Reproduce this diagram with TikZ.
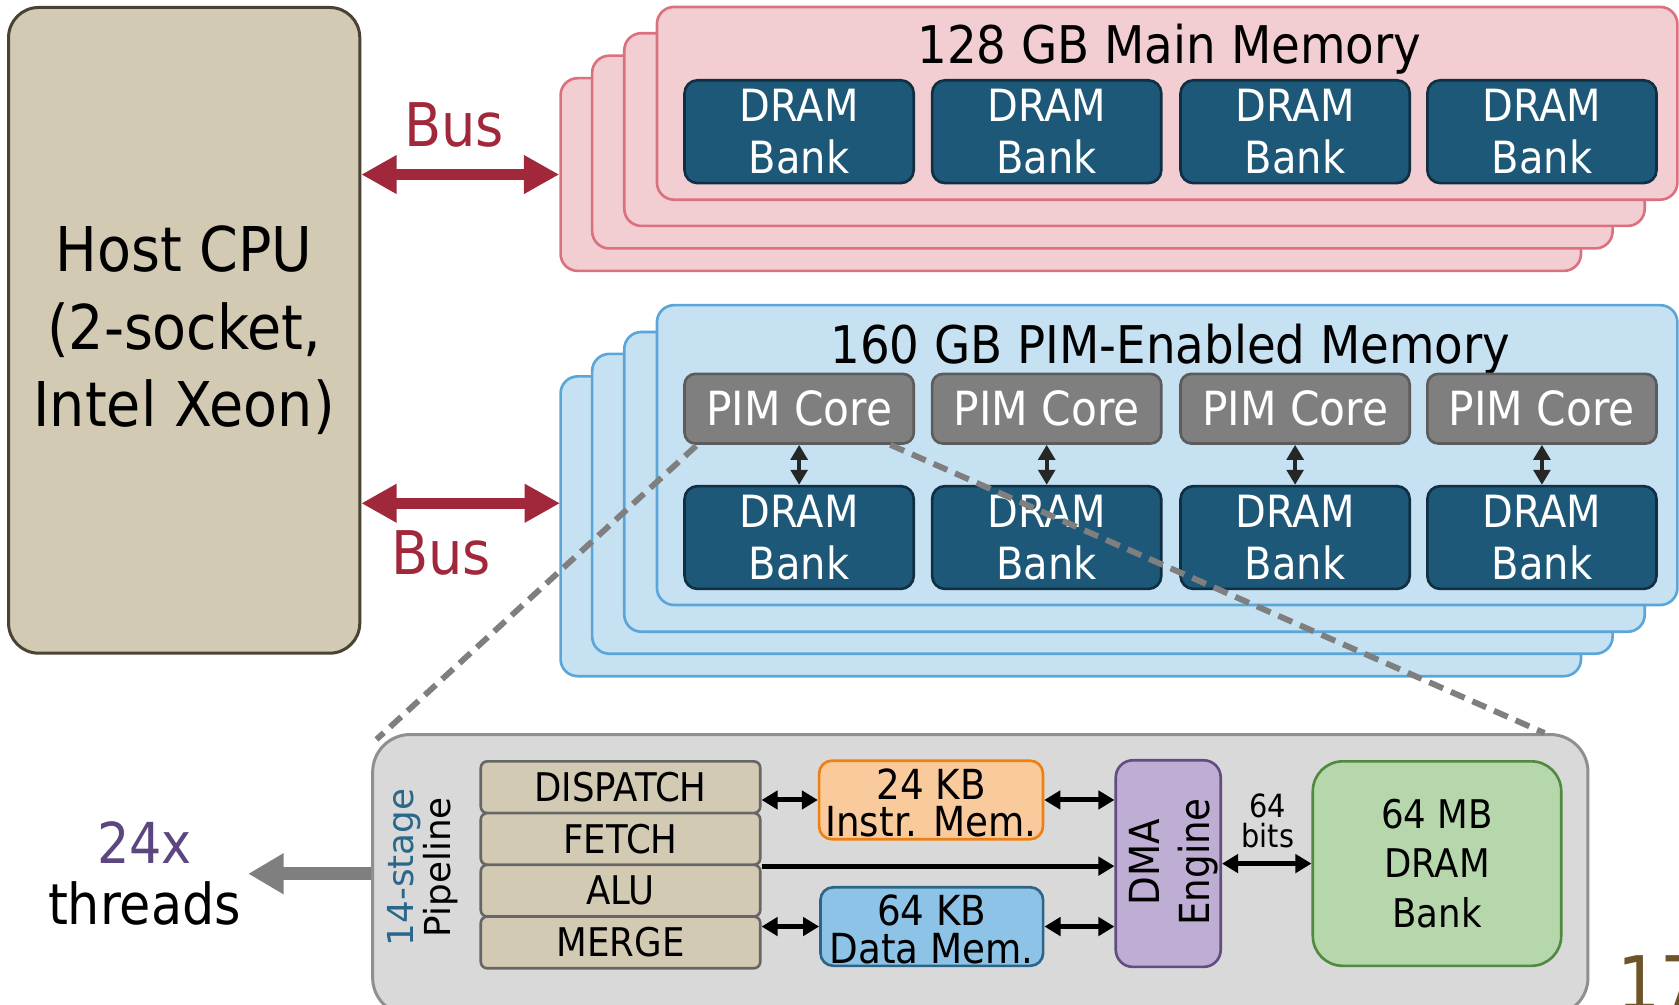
\documentclass[tikz,border=0pt]{standalone}
\usepackage{fontspec}
\setmainfont{DejaVu Sans}[FakeStretch=0.9]
\newfontfamily\widesans{DejaVu Sans}
\usetikzlibrary{arrows.meta,calc}

\definecolor{cputan}{HTML}{D3CAB4}
\definecolor{cpuedge}{HTML}{4A4233}
\definecolor{pinkfill}{HTML}{F2CED3}
\definecolor{pinkedge}{HTML}{DB717E}
\definecolor{bluefill}{HTML}{C5E1F2}
\definecolor{blueedge}{HTML}{5AA6D9}
\definecolor{dramfill}{HTML}{1D5878}
\definecolor{dramedge}{HTML}{102F42}
\definecolor{pimfill}{HTML}{7F7F7F}
\definecolor{pimedge}{HTML}{5C5C5C}
\definecolor{busred}{HTML}{A1283A}
\definecolor{corefill}{HTML}{D9D9D9}
\definecolor{coreedge}{HTML}{8F8F8F}
\definecolor{stageedge}{HTML}{666666}
\definecolor{imemfill}{HTML}{F9CB9C}
\definecolor{imemedge}{HTML}{EE8012}
\definecolor{dmemfill}{HTML}{8DC3E6}
\definecolor{dmemedge}{HTML}{2D6586}
\definecolor{dmafill}{HTML}{BFAED4}
\definecolor{dmaedge}{HTML}{624D82}
\definecolor{mbfill}{HTML}{B5D7AB}
\definecolor{mbedge}{HTML}{4F8A3F}
\definecolor{threadpurple}{HTML}{5C467F}
\definecolor{stageblue}{HTML}{2A678B}
\definecolor{slidebrown}{HTML}{6E5429}
\definecolor{dashgray}{HTML}{7F7F7F}
\definecolor{pimarrow}{HTML}{262626}

\tikzset{
  bustip/.tip={Triangle[length=3.3mm,width=3.4mm]},
  thrtip/.tip={Triangle[length=3.3mm,width=3.6mm]},
  smalltip/.tip={Triangle[length=1.5mm,width=1.7mm]},
  pimtip/.tip={Triangle[length=1.4mm,width=1.55mm]},
  layer/.style={draw, line width=0.7pt, rounded corners=1.6mm, inner sep=0pt, minimum width=95.3mm},
  pinklayer/.style={layer, fill=pinkfill, draw=pinkedge, minimum height=18mm},
  bluelayer/.style={layer, fill=bluefill, draw=blueedge, minimum height=28mm},
  title/.style={inner sep=0pt, font=\fontsize{13.8}{16}\selectfont},
  bank/.style={draw=dramedge, fill=dramfill, line width=0.7pt, rounded corners=1.2mm, minimum width=21.4mm, minimum height=9.6mm, inner sep=0pt, text=white, align=center, font=\fontsize{11.8}{13.9}\selectfont},
  pim/.style={draw=pimedge, fill=pimfill, line width=0.7pt, rounded corners=1mm, minimum width=21.4mm, minimum height=6.5mm, inner sep=0pt, text=white, font=\fontsize{12.5}{15}\selectfont},
  stage/.style={draw=stageedge, fill=cputan, line width=0.7pt, rounded corners=0.6mm, minimum width=26.1mm, minimum height=4.83mm, inner sep=0pt, font=\fontsize{10.5}{12}\selectfont},
  mem/.style={line width=0.7pt, rounded corners=1.2mm, minimum height=7.34mm, inner sep=0pt, align=center, font=\fontsize{11}{10}\selectfont},
  busarrow/.style={bustip-bustip, line width=1mm, draw=busred},
  buslabel/.style={inner sep=0pt, text=busred, font=\fontsize{16}{19}\selectfont},
  pimlink/.style={pimtip-pimtip, line width=0.37mm, draw=pimarrow},
  link/.style={smalltip-smalltip, line width=0.47mm},
  zoomline/.style={draw=dashgray, line width=0.55mm, dash pattern=on 1.4mm off 0.8mm}
}

\begin{document}
\begin{tikzpicture}[x=0.1mm, y=-0.1mm]
	%%%%% START %%%%%
	\useasboundingbox (0, 0) rectangle (1568, 938);
	\clip (0, 0) rectangle (1568, 938);

	\node[draw=cpuedge, fill=cputan, line width=0.8pt, rounded corners=2.8mm, minimum width=32.8mm, minimum height=60.3mm, align=center, font=\fontsize{16.4}{20.6}\selectfont] (cpu) at (172, 308.5) {Host CPU\\(2-socket,\\Intel Xeon)};

	% main memory
	\node[pinklayer] (pink4) at (1000, 163) {};
	\node[pinklayer] (pink3) at (1029.5, 142) {};
	\node[pinklayer] (pink2) at (1059.5, 121) {};
	\node[pinklayer] (pink1) at (1090, 96.5) {};
	\node[title] (maintitle) at (1092, 46) {128 GB Main Memory};
	\node[bank] (mbank1) at (746.3, 123) {DRAM\\Bank};
	\node[bank] (mbank2) at (977.5, 123) {DRAM\\Bank};
	\node[bank] (mbank3) at (1209.5, 123) {DRAM\\Bank};
	\node[bank] (mbank4) at (1440, 123) {DRAM\\Bank};

	% PIM memory
	\node[bluelayer] (blue4) at (1000, 491.5) {};
	\node[bluelayer] (blue3) at (1029.5, 470.5) {};
	\node[bluelayer] (blue2) at (1059.5, 450) {};
	\node[bluelayer] (blue1) at (1090, 425) {};
	\node[title] (pimtitle) at (1093, 326) {160 GB PIM-Enabled Memory};
	\node[pim] (pim1) at (746.3, 381.7) {PIM Core};
	\node[pim] (pim2) at (977.5, 381.7) {PIM Core};
	\node[pim] (pim3) at (1209.5, 381.7) {PIM Core};
	\node[pim] (pim4) at (1440, 381.7) {PIM Core};
	\node[bank] (pbank1) at (746.3, 502) {DRAM\\Bank};
	\node[bank] (pbank2) at (977.5, 502) {DRAM\\Bank};
	\node[bank] (pbank3) at (1209.5, 502) {DRAM\\Bank};
	\node[bank] (pbank4) at (1440, 502) {DRAM\\Bank};
	\draw[pimlink] (pim1.south) -- (pbank1.north);
	\draw[pimlink] (pim2.south) -- (pbank2.north);
	\draw[pimlink] (pim3.south) -- (pbank3.north);
	\draw[pimlink] (pim4.south) -- (pbank4.north);

	% buses
	\draw[busarrow] (pink4.west -| cpu.east) -- (pink4.west);
	\node[buslabel] (busup) at (424, 117) {Bus};
	\coordinate (busport) at (523, 470);
	\draw[busarrow] (busport -| cpu.east) -- (busport);
	\node[buslabel] (busdown) at (412, 516) {Bus};

	% one PIM core
	\node[draw=coreedge, fill=corefill, line width=0.8pt, rounded corners=3.5mm, minimum width=113.5mm, minimum height=26.2mm] (core) at (915.5, 817) {};
	\draw[zoomline] ($(pim1.south west)+(12, 1)$) -- ($(core.north west)+(5, 6)$);
	\draw[zoomline] ($(pim1.south east)+(-23, 0)$) -- ($(core.north east)+(-42, 0)$);

	\node[rotate=90, align=center, inner sep=0pt, font=\widesans\fontsize{9.5}{9.8}\selectfont] (pipe) at (395, 810) {\textcolor{stageblue}{14-stage}\\Pipeline};
	\node[stage] (disp) at (579.5, 735.2) {DISPATCH};
	\node[stage] (fetch) at (579.5, 783.5) {FETCH};
	\node[stage] (alu) at (579.5, 831.8) {ALU};
	\node[stage] (merge) at (579.5, 880.1) {MERGE};

	\node[mem, draw=imemedge, fill=imemfill, minimum width=20.9mm] (imem) at (869.5, 747.1) {\rule{0pt}{9.8pt}24 KB\\Instr. Mem.};
	\node[mem, draw=dmemedge, fill=dmemfill, minimum width=20.8mm] (dmem) at (870.2, 865.3) {\rule{0pt}{9.8pt}64 KB\\Data Mem.};
	\node[draw=dmaedge, fill=dmafill, line width=0.7pt, rounded corners=1.6mm, minimum width=9.8mm, minimum height=19.3mm] (dma) at (1091, 806.5) {};
	\node[rotate=90, align=center, inner sep=0pt, font=\fontsize{11}{13.2}\selectfont] (dmatext) at (1096, 805) {DMA\\Engine};
	\node[draw=mbedge, fill=mbfill, line width=0.7pt, rounded corners=2.8mm, minimum width=23.2mm, minimum height=19.1mm, align=center, font=\fontsize{10.5}{13.1}\selectfont] (mb64) at (1342, 806.5) {64 MB\\DRAM\\Bank};

	\draw[link] (imem.west -| disp.east) -- (imem.west);
	\draw[link] (dmem.west -| merge.east) -- (dmem.west);
	\draw[-smalltip, line width=0.47mm] (fetch.south east) -- (fetch.south east -| dma.west);
	\draw[link] (imem.east) -- (imem.east -| dma.west);
	\draw[link] (dmem.east) -- (dmem.east -| dma.west);
	\draw[link] (dma.east) -- (mb64.west);
	\node[align=center, inner sep=0pt, font=\fontsize{8.5}{8}\selectfont] (bits) at (1184, 767) {64\\bits};

	\node[align=center, inner sep=0.6mm, font=\fontsize{15}{16.2}\selectfont] (thr) at (135, 816) {\textcolor{threadpurple}{24x}\\threads};
	\draw[-thrtip, line width=1.2mm, draw=dashgray] (thr.east -| core.west) -- (thr.east);

	\node[anchor=north west, inner sep=0pt, text=slidebrown, font=\fontsize{20}{24}\selectfont] (pagenum) at (1510, 892) {17};
	%%%%% END %%%%%
\end{tikzpicture}
\end{document}
